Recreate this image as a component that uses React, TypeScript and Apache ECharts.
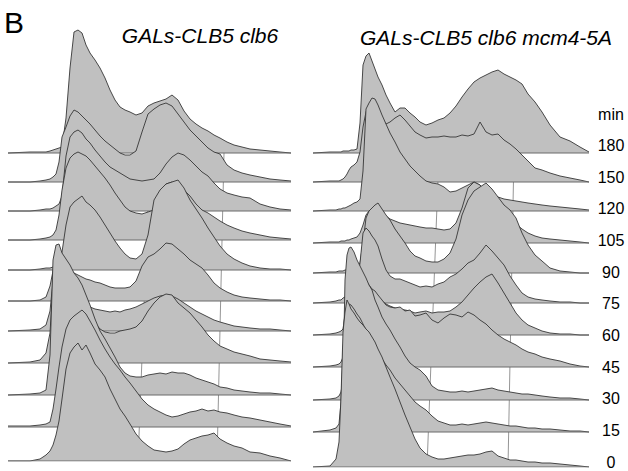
import React, { useEffect, useRef } from "react";
import * as echarts from "echarts";

// Time points (min), front (0) to back (180)
const TIMES = [0, 15, 30, 45, 60, 75, 90, 105, 120, 150, 180];
const TITLES = ["GALs-CLB5 clb6", "GALs-CLB5 clb6 mcm4-5A"];
const PANEL_LETTER = "B";
const UNIT_LABEL = "min";

// DNA-content channels (x) for each panel
const LEFT_CHANNELS = [0, 22, 32, 38, 42, 45, 48, 51, 54, 58, 62, 66, 70, 74, 78, 82, 87, 92, 97, 102, 107, 112, 117, 122, 128, 134, 140, 146, 152, 158, 164, 170, 176, 182, 188, 194, 200, 206, 212, 219, 226, 234, 242, 252, 262, 272, 283];
const RIGHT_CHANNELS = [0, 17, 23, 26, 28, 30, 32, 34, 36, 38, 41, 44, 47, 50, 53, 56, 59, 62, 65, 69, 73, 77, 82, 87, 92, 97, 102, 107, 113, 119, 125, 131, 137, 143, 149, 155, 161, 167, 173, 179, 185, 191, 197, 203, 209, 215, 222, 229, 237, 247, 257, 267, 276];

// Vertical stacking offset of each histogram (0 min first)
const LEFT_OFFSETS = [0, 34, 66, 98, 130, 160, 191, 221, 250, 279, 308];
const RIGHT_OFFSETS = [0, 35, 67, 100, 132, 164, 194, 224, 256, 285, 314];

// Left panel: GALs-CLB5 clb6 (cell counts per channel)
const L_0 = [0, 0, 2, 6, 10, 16, 26, 40, 62, 92, 108, 114, 118, 111, 116, 108, 97, 91, 84, 72, 62, 52, 45, 37, 27, 20, 15, 11, 10, 9, 10, 12, 17, 21, 23, 25, 26, 28, 22, 18, 15, 13, 9, 8, 5, 3, 0];
const L_15 = [1, 1, 2, 3, 5, 18, 38, 60, 80, 98, 107, 111, 114, 117, 113, 106, 97, 87, 78, 70, 63, 57, 50, 44, 36, 28, 22, 18, 15, 12, 10, 11, 13, 15, 16, 18, 16, 17, 15, 14, 12, 10, 9, 7, 5, 3, 1];
const L_30 = [0, 1, 2, 5, 40, 135, 150, 151, 142, 136, 130, 122, 117, 110, 100, 90, 76, 64, 56, 47, 38, 28, 22, 19, 18, 18, 20, 21, 22, 21, 23, 22, 22, 20, 17, 15, 13, 11, 8, 7, 5, 4, 3, 2, 2, 1, 0];
const L_45 = [0, 1, 3, 10, 30, 80, 105, 112, 105, 95, 88, 80, 72, 64, 56, 48, 40, 34, 31, 30, 30, 32, 33, 34, 36, 42, 52, 60, 66, 69, 68, 60, 55, 50, 43, 36, 28, 22, 17, 14, 11, 9, 7, 4, 3, 2, 1];
const L_60 = [0, 1, 2, 6, 20, 50, 62, 70, 68, 62, 55, 48, 40, 34, 28, 24, 22, 21, 20, 19, 20, 19, 21, 22, 24, 27, 30, 33, 35, 36, 35, 32, 28, 24, 20, 17, 14, 11, 9, 7, 5, 4, 3, 2, 2, 1, 0];
const L_75 = [0, 0, 1, 4, 15, 30, 38, 40, 38, 35, 31, 28, 26, 24, 22, 21, 19, 18, 16, 14, 13, 13, 13, 14, 20, 35, 44, 47, 52, 58, 57, 52, 47, 41, 37, 33, 26, 18, 13, 9, 6, 4, 3, 2, 1, 1, 0];
const L_90 = [0, 0, 1, 2, 2, 3, 5, 8, 18, 45, 63, 68, 71, 74, 68, 65, 60, 53, 45, 37, 29, 22, 16, 12, 11, 16, 35, 70, 80, 86, 88, 90, 82, 70, 61, 52, 42, 33, 24, 16, 11, 7, 4, 2, 1, 1, 0];
const L_105 = [0, 0, 1, 2, 3, 5, 10, 25, 50, 72, 82, 86, 88, 86, 84, 80, 74, 68, 62, 55, 47, 40, 33, 29, 27, 26, 28, 30, 47, 56, 58, 55, 50, 44, 36, 30, 27, 23, 19, 15, 12, 9, 7, 5, 3, 2, 1];
const L_120 = [0, 0, 1, 2, 2, 3, 5, 7, 15, 55, 74, 79, 81, 78, 72, 68, 61, 55, 49, 44, 41, 38, 35, 32, 31, 30, 31, 32, 38, 47, 54, 58, 56, 51, 45, 39, 35, 28, 22, 18, 16, 14, 13, 7, 4, 2, 1];
const L_150 = [0, 0, 1, 2, 3, 5, 8, 20, 45, 55, 66, 72, 70, 66, 62, 58, 52, 46, 41, 37, 33, 29, 27, 27, 31, 50, 68, 73, 77, 79, 76, 68, 60, 52, 46, 40, 34, 30, 28, 17, 12, 9, 7, 5, 3, 2, 1];
const L_180 = [0, 1, 1, 1, 2, 3, 4, 5, 6, 35, 85, 121, 123, 120, 108, 100, 93, 85, 75, 63, 53, 46, 43, 41, 38, 40, 47, 50, 52, 54, 58, 53, 42, 34, 29, 25, 22, 18, 15, 11, 8, 6, 4, 3, 2, 1, 0];

// Right panel: GALs-CLB5 clb6 mcm4-5A
const R_0 = [0, 1, 8, 25, 70, 135, 155, 167, 163, 158, 154, 149, 145, 142, 138, 135, 130, 125, 118, 110, 100, 90, 78, 65, 52, 40, 28, 19, 13, 10, 8, 8, 9, 10, 11, 12, 12, 13, 15, 16, 11, 9, 7, 7, 6, 5, 5, 4, 4, 3, 2, 1, 0];
const R_15 = [0, 2, 4, 8, 30, 80, 115, 126, 128, 127, 123, 118, 114, 108, 102, 96, 90, 85, 80, 73, 67, 62, 54, 48, 42, 36, 30, 26, 22, 16, 11, 9, 7, 7, 8, 7, 8, 9, 10, 9, 8, 7, 6, 6, 5, 4, 4, 3, 3, 2, 1, 1, 0];
const R_30 = [0, 1, 2, 4, 8, 20, 120, 145, 152, 153, 148, 140, 134, 128, 122, 115, 110, 100, 93, 83, 76, 70, 61, 53, 44, 37, 33, 30, 24, 14, 10, 9, 8, 8, 9, 8, 9, 10, 11, 12, 10, 9, 8, 7, 6, 6, 5, 4, 3, 2, 2, 1, 0];
const R_45 = [0, 1, 2, 3, 5, 10, 40, 70, 90, 100, 100, 97, 94, 90, 86, 82, 78, 76, 72, 67, 62, 60, 59, 60, 56, 57, 51, 52, 54, 47, 44, 49, 53, 52, 50, 55, 52, 47, 43, 37, 32, 28, 25, 22, 18, 15, 13, 10, 8, 6, 3, 1, 0];
const R_60 = [0, 1, 2, 3, 4, 6, 20, 40, 55, 60, 62, 62, 58, 55, 52, 48, 45, 41, 38, 34, 31, 29, 27, 26, 25, 24, 22, 23, 24, 22, 23, 23, 24, 28, 33, 40, 47, 53, 58, 61, 52, 42, 32, 22, 15, 10, 7, 4, 2, 1, 1, 0, 0];
const R_75 = [0, 1, 2, 3, 3, 5, 6, 8, 10, 12, 15, 20, 40, 70, 75, 72, 67, 63, 57, 44, 33, 27, 24, 24, 22, 20, 18, 16, 17, 16, 19, 21, 26, 29, 34, 40, 43, 50, 58, 52, 45, 38, 27, 18, 10, 6, 4, 3, 2, 1, 1, 0, 0];
const R_90 = [0, 1, 1, 2, 2, 2, 3, 3, 4, 4, 5, 6, 10, 30, 55, 62, 65, 68, 70, 64, 58, 53, 44, 37, 30, 22, 17, 15, 12, 11, 11, 14, 20, 34, 58, 73, 82, 86, 90, 84, 76, 68, 63, 55, 40, 28, 18, 12, 5, 2, 1, 0, 0];
const R_105 = [0, 1, 1, 1, 2, 2, 2, 3, 3, 4, 5, 6, 10, 18, 28, 32, 33, 34, 33, 30, 27, 24, 22, 20, 19, 18, 17, 16, 15, 15, 14, 13, 14, 20, 35, 55, 61, 58, 51, 44, 37, 31, 25, 19, 14, 10, 7, 5, 4, 3, 2, 1, 0];
const R_120 = [0, 1, 1, 2, 2, 3, 3, 4, 5, 6, 8, 9, 12, 40, 102, 108, 113, 112, 106, 96, 87, 78, 69, 59, 52, 45, 40, 35, 30, 28, 27, 24, 19, 20, 23, 26, 29, 26, 19, 16, 14, 12, 11, 10, 9, 8, 7, 6, 5, 4, 3, 2, 1];
const R_150 = [0, 1, 1, 1, 2, 3, 5, 8, 12, 15, 17, 20, 30, 55, 70, 78, 80, 78, 72, 63, 58, 60, 64, 67, 62, 56, 50, 47, 44, 45, 45, 46, 45, 45, 47, 46, 48, 60, 50, 47, 48, 42, 38, 33, 27, 21, 14, 12, 9, 6, 4, 2, 0];
const R_180 = [0, 1, 1, 1, 1, 2, 2, 2, 2, 3, 3, 4, 30, 88, 97, 100, 92, 84, 76, 68, 58, 50, 41, 45, 45, 40, 36, 31, 28, 30, 33, 35, 40, 47, 56, 64, 71, 75, 78, 81, 83, 79, 76, 73, 69, 59, 51, 41, 28, 16, 12, 6, 1];

const LEFT_COUNTS = [L_0, L_15, L_30, L_45, L_60, L_75, L_90, L_105, L_120, L_150, L_180];
const RIGHT_COUNTS = [R_0, R_15, R_30, R_45, R_60, R_75, R_90, R_105, R_120, R_150, R_180];

// 1C / 2C marker channels: [at back (180 min) row, at front (0 min) row]
const LEFT_GATES = [[142, 130], [216, 209]];
const RIGHT_GATES = [[126, 114], [201, 195]];

// Right-hand tick labels, bottom to top
const TIME_LABELS = [...TIMES.map(String), UNIT_LABEL];

const FILL = "#c0c0c0";
const OUTLINE = "#363636";
const BASELINE = "#6a6a6a";
const FONT = '"Liberation Sans", Arial, Helvetica, sans-serif';

function panelSeries(idx: number, channels: number[], counts: number[][], offsets: number[], gates: number[][], width: number) {
  const out: any[] = [];
  const n = offsets.length;
  gates.forEach((g) => {
    out.push({
      type: "line",
      xAxisIndex: idx,
      yAxisIndex: idx,
      data: [[g[0], offsets[n - 1]], [g[1], offsets[0]]],
      symbol: "none",
      silent: true,
      lineStyle: { color: "#7a7a7a", width: 0.8 },
      z: 1,
    });
  });
  counts.forEach((h, i) => {
    const base = offsets[i];
    const z = 40 - 2 * i;
    out.push({
      type: "line",
      xAxisIndex: idx,
      yAxisIndex: idx,
      data: channels.map((c, k) => [c, base + h[k]]),
      symbol: "none",
      silent: true,
      lineStyle: { color: OUTLINE, width: 0.9 },
      areaStyle: { color: FILL, opacity: 1, origin: base },
      z,
    });
    out.push({
      type: "line",
      xAxisIndex: idx,
      yAxisIndex: idx,
      data: [[0, base], [width, base]],
      symbol: "none",
      silent: true,
      lineStyle: { color: BASELINE, width: 1 },
      z: z + 1,
    });
  });
  return out;
}

export default function App() {
  const ref = useRef<HTMLDivElement>(null);
  useEffect(() => {
    if (!ref.current) return;
    const chart = echarts.init(ref.current, undefined, { renderer: "svg" });
    const leftW = 283;
    const rightW = 276;
    const option: any = {
      animation: false,
      backgroundColor: "#ffffff",
      grid: [
        { left: 8, width: leftW, bottom: 10, height: 440 },
        { left: 313, width: rightW, bottom: 4, height: 440 },
        { left: 560, width: 41, top: 114, height: 348 },
      ],
      xAxis: [
        { type: "value", gridIndex: 0, min: 0, max: leftW, show: false },
        { type: "value", gridIndex: 1, min: 0, max: rightW, show: false },
        { type: "value", gridIndex: 2, min: 0, max: 1, show: false },
      ],
      yAxis: [
        { type: "value", gridIndex: 0, min: 0, max: 440, show: false },
        { type: "value", gridIndex: 1, min: 0, max: 440, show: false },
        {
          type: "category",
          gridIndex: 2,
          position: "right",
          data: TIME_LABELS,
          boundaryGap: false,
          axisLine: { show: false },
          axisTick: { show: false },
          splitLine: { show: false },
          axisLabel: {
            interval: 0,
            margin: 10,
            align: "center",
            fontSize: 16,
            fontFamily: FONT,
            color: "#000",
          },
        },
      ],
      graphic: [
        { type: "text", x: 4, y: 22, style: { text: PANEL_LETTER, font: `30px ${FONT}`, fill: "#000", verticalAlign: "middle" } },
        { type: "text", x: 200, y: 35, style: { text: TITLES[0], font: `italic 21px ${FONT}`, fill: "#000", align: "center", verticalAlign: "middle" } },
        { type: "text", x: 486, y: 37, style: { text: TITLES[1], font: `italic 21px ${FONT}`, fill: "#000", align: "center", verticalAlign: "middle" } },
      ],
      series: [
        ...panelSeries(0, LEFT_CHANNELS, LEFT_COUNTS, LEFT_OFFSETS, LEFT_GATES, leftW),
        ...panelSeries(1, RIGHT_CHANNELS, RIGHT_COUNTS, RIGHT_OFFSETS, RIGHT_GATES, rightW),
      ],
    };
    chart.setOption(option);
    return () => chart.dispose();
  }, []);
  return (
    <div
      ref={ref}
      style={{ position: "fixed", left: 0, top: 0, width: 628, height: 471, background: "#fff" }}
    />
  );
}
